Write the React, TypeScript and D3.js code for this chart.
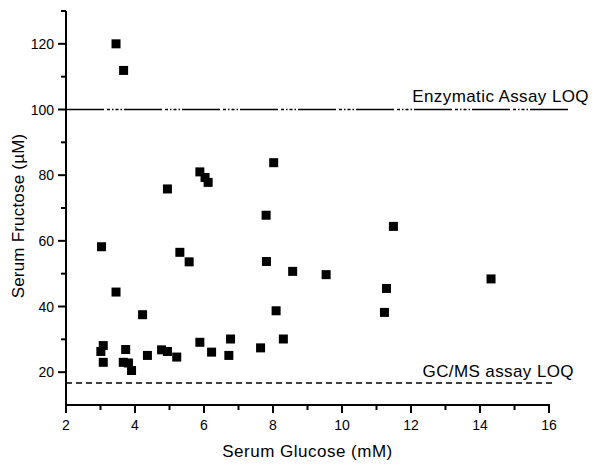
import { useRef, useEffect } from "react";
import * as d3 from "d3";

// serum glucose (mM) vs serum fructose (uM), one entry per sample
const glucose = [
  3.45, 3.67, 4.94, 5.88, 6.03, 6.12, 8.02, 7.8, 11.49, 3.03, 3.45, 4.22, 5.3,
  5.57, 3.01, 3.08, 3.08, 3.73, 3.66, 3.81, 3.9, 4.36, 4.77, 4.94, 5.21, 5.88,
  6.22, 6.72, 6.77, 7.64, 7.81, 8.09, 8.3, 8.57, 9.54, 11.23, 11.29, 14.32,
];
const fructose = [
  120.0, 111.9, 75.8, 81.0, 79.3, 77.8, 83.8, 67.8, 64.4, 58.2, 44.4, 37.5, 56.5,
  53.6, 26.3, 28.1, 23.0, 26.9, 23.0, 22.8, 20.5, 25.1, 26.8, 26.3, 24.6, 29.1,
  26.1, 25.1, 30.1, 27.4, 53.7, 38.7, 30.1, 50.7, 49.7, 38.2, 45.5, 48.4,
];

const xTicks = [2, 4, 6, 8, 10, 12, 14, 16];
const xMinorTicks = [3, 5, 7, 9, 11, 13, 15];
const yTicks = [20, 40, 60, 80, 100, 120];
const yMinorTicks = [30, 50, 70, 90, 110, 130];

const enzymaticLOQ = 100;
const gcmsLOQ = 16.7;

const W = 601;
const H = 474;
const FONT = "'Liberation Sans', Arial, sans-serif";

function drawScatter(svgEl: SVGSVGElement) {
  const svg = d3.select(svgEl);
  svg.selectAll("*").remove();

  const x = d3.scaleLinear().domain([2, 16]).range([66, 549]);
  const y = d3.scaleLinear().domain([10, 130]).range([405, 11]);

  svg.append("rect").attr("width", W).attr("height", H).attr("fill", "#fff");

  // LOQ lines
  svg.append("line")
    .attr("x1", x(2)).attr("x2", x(16.55))
    .attr("y1", y(enzymaticLOQ)).attr("y2", y(enzymaticLOQ))
    .attr("stroke", "#000").attr("stroke-width", 1.6)
    .attr("stroke-dasharray", "38 3 3 2 1.5 2 3 2 1.5 2");

  svg.append("line")
    .attr("x1", x(2)).attr("x2", x(16.1))
    .attr("y1", y(gcmsLOQ)).attr("y2", y(gcmsLOQ))
    .attr("stroke", "#000").attr("stroke-width", 1.6)
    .attr("stroke-dasharray", "6 4");

  svg.append("text")
    .attr("x", x(16) + 40).attr("y", y(enzymaticLOQ) - 8)
    .attr("text-anchor", "end")
    .attr("font-family", FONT).attr("font-size", 17)
    .attr("letter-spacing", 0.4)
    .text("Enzymatic Assay LOQ");

  svg.append("text")
    .attr("x", x(16) + 25).attr("y", y(gcmsLOQ) - 6)
    .attr("text-anchor", "end")
    .attr("font-family", FONT).attr("font-size", 17)
    .attr("letter-spacing", 0.4)
    .text("GC/MS assay LOQ");

  // x axis
  const xAxis = svg.append("g").attr("transform", `translate(0,${y(10)})`);
  xAxis.append("line")
    .attr("x1", x(2) - 1).attr("x2", x(16) + 1)
    .attr("stroke", "#000").attr("stroke-width", 2);
  xAxis.selectAll(".major").data(xTicks).join("line")
    .attr("x1", d => x(d)).attr("x2", d => x(d))
    .attr("y1", 0).attr("y2", 8)
    .attr("stroke", "#000").attr("stroke-width", 2);
  xAxis.selectAll(".minor").data(xMinorTicks).join("line")
    .attr("class", "minor")
    .attr("x1", d => x(d)).attr("x2", d => x(d))
    .attr("y1", 0).attr("y2", 5)
    .attr("stroke", "#000").attr("stroke-width", 2);
  xAxis.selectAll("text").data(xTicks).join("text")
    .attr("x", d => x(d)).attr("y", 25)
    .attr("text-anchor", "middle")
    .attr("font-family", FONT).attr("font-size", 14)
    .text(d => d);

  // y axis
  const yAxis = svg.append("g").attr("transform", `translate(${x(2)},0)`);
  yAxis.append("line")
    .attr("y1", y(130)).attr("y2", y(10) + 1)
    .attr("stroke", "#000").attr("stroke-width", 2);
  yAxis.selectAll(".major").data(yTicks).join("line")
    .attr("class", "major")
    .attr("x1", -8).attr("x2", 0)
    .attr("y1", d => y(d)).attr("y2", d => y(d))
    .attr("stroke", "#000").attr("stroke-width", 2);
  yAxis.selectAll(".minor").data(yMinorTicks).join("line")
    .attr("class", "minor")
    .attr("x1", -5).attr("x2", 0)
    .attr("y1", d => y(d)).attr("y2", d => y(d))
    .attr("stroke", "#000").attr("stroke-width", 2);
  yAxis.selectAll("text").data(yTicks).join("text")
    .attr("x", -12).attr("y", d => y(d) + 5)
    .attr("text-anchor", "end")
    .attr("font-family", FONT).attr("font-size", 14)
    .text(d => d);

  // axis titles
  svg.append("text")
    .attr("x", (x(2) + x(16)) / 2).attr("y", 457)
    .attr("text-anchor", "middle")
    .attr("font-family", FONT).attr("font-size", 17)
    .attr("letter-spacing", 0.5)
    .text("Serum Glucose (mM)");

  svg.append("text")
    .attr("transform", `translate(24,${(y(10) + y(130)) / 2 + 8}) rotate(-90)`)
    .attr("text-anchor", "middle")
    .attr("font-family", FONT).attr("font-size", 17)
    .attr("letter-spacing", 0.2)
    .text("Serum Fructose (\u00b5M)");

  // points
  const s = 9;
  svg.append("g")
    .selectAll("rect")
    .data(d3.range(glucose.length))
    .join("rect")
    .attr("x", i => x(glucose[i]) - s / 2)
    .attr("y", i => y(fructose[i]) - s / 2)
    .attr("width", s)
    .attr("height", s)
    .attr("fill", "#000");
}

export default function App() {
  const ref = useRef<SVGSVGElement>(null);

  useEffect(() => {
    if (ref.current) drawScatter(ref.current);
  }, []);

  return (
    <div style={{ position: "absolute", left: 0, top: 0 }}>
      <svg ref={ref} width={W} height={H}></svg>
    </div>
  );
}
